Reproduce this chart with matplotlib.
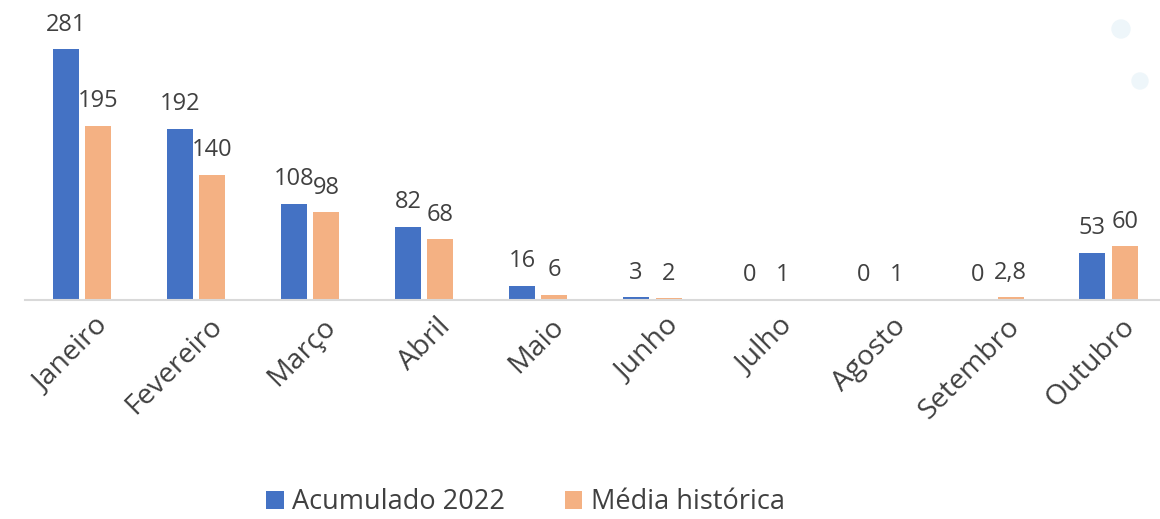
import matplotlib
matplotlib.use("Agg")
import matplotlib.pyplot as plt
import matplotlib.transforms as mtransforms
from matplotlib.patches import Circle
import numpy as np

plt.rcParams['font.family'] = ['Open Sans', 'DejaVu Sans']

# dados
meses = ["Janeiro", "Fevereiro", "Março", "Abril", "Maio", "Junho",
         "Julho", "Agosto", "Setembro", "Outubro"]
acumulado_2022 = [281, 192, 108, 82, 16, 3, 0, 0, 0, 53]
media_historica = [195, 140, 98, 68, 6, 2, 1, 1, 2.8, 60]
rotulos_media = ["195", "140", "98", "68", "6", "2", "1", "1", "2,8", "60"]

cor_azul = "#4472C4"
cor_laranja = "#F4B183"
cor_texto = "#404040"

fig = plt.figure(figsize=(11.6, 5.19), dpi=100)
ax = fig.add_axes([0.0216, 0.422, 0.983, 0.578])

x = np.arange(len(meses))
w = 0.228
b1 = ax.bar(x - 0.143, acumulado_2022, w, color=cor_azul, label="Acumulado 2022")
b2 = ax.bar(x + 0.143, media_historica, w, color=cor_laranja, label="Média histórica")

ax.bar_label(b1, labels=[str(v) for v in acumulado_2022], padding=9,
             fontsize=17, color=cor_texto)
ax.bar_label(b2, labels=rotulos_media, padding=9, fontsize=17, color=cor_texto)

ax.set_xlim(-0.5, len(meses) - 0.5)
ax.set_ylim(0, 336)
ax.set_yticks([])
ax.set_xticks(x)
ax.set_xticklabels(meses, rotation=45, ha="right", rotation_mode="anchor",
                   fontsize=20.5, color=cor_texto)
ax.tick_params(axis="x", length=0, pad=9)
desloc = mtransforms.ScaledTranslation(0.12, 0, fig.dpi_scale_trans)
for lbl in ax.get_xticklabels():
    lbl.set_transform(lbl.get_transform() + desloc)
for s in ["top", "right", "left"]:
    ax.spines[s].set_visible(False)
ax.spines["bottom"].set_color("#D9D9D9")
ax.spines["bottom"].set_linewidth(1.5)

fig.legend(handles=[b1, b2], loc="center", bbox_to_anchor=(0.453, 0.032),
           ncol=2, frameon=False, fontsize=19.5, handlelength=0.65,
           handleheight=0.65, handletextpad=0.3, columnspacing=2.2,
           labelcolor=cor_texto, borderpad=0.2)

# circulos decorativos
fig.patches.append(Circle((11.21, 5.19 - 0.29), 0.09,
                          transform=fig.dpi_scale_trans, color="#EEF6FA",
                          figure=fig, zorder=0))
fig.patches.append(Circle((11.40, 5.19 - 0.81), 0.08,
                          transform=fig.dpi_scale_trans, color="#EEF6FA",
                          figure=fig, zorder=0))

fig.savefig("out.png", dpi=100)
